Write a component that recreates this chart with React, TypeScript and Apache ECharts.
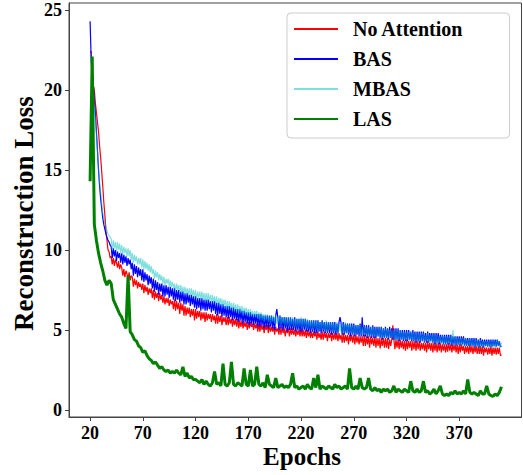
import React, { useEffect, useRef } from "react";
import * as echarts from "echarts";

const SERIES_NAMES = ["No Attention", "BAS", "MBAS", "LAS"];
const X_TICKS = [20, 70, 120, 170, 220, 270, 320, 370];
const Y_TICKS = [0, 5, 10, 15, 20, 25];
const X_TITLE = "Epochs";
const Y_TITLE = "Reconstruction Loss";

// per-epoch samples, epochs 20 .. 410
const EPOCHS = Array.from({ length: 391 }, (_, i) => 20 + i);
// LAS is read every second epoch, epochs 20, 22, .., 410
const EPOCHS_LAS = Array.from({ length: 196 }, (_, i) => 20 + 2 * i);

const NO_ATTENTION = [
  22.4, 22.4, 20.2, 20.3, 20.0, 19.2, 18.6, 18.0, 17.4, 16.5,
  15.8, 14.9, 14.0, 13.0, 12.2, 11.2, 10.6, 10.0, 9.9, 9.5,
  9.6, 9.1, 9.5, 9.0, 9.4, 9.2, 8.9, 9.3, 8.8, 9.1,
  8.9, 8.4, 8.8, 8.3, 8.7, 8.5, 8.2, 8.6, 8.1, 8.4,
  8.3, 7.7, 8.2, 7.8, 8.1, 7.6, 8.0, 7.7, 7.9, 7.5,
  7.9, 7.3, 7.8, 7.4, 7.7, 7.2, 7.6, 7.3, 7.6, 7.0,
  7.5, 6.9, 7.4, 7.0, 7.3, 6.8, 7.3, 6.9, 7.2, 6.7,
  7.1, 6.6, 7.0, 6.7, 7.0, 6.5, 6.9, 6.6, 6.8, 6.3,
  6.9, 6.2, 6.8, 6.3, 6.7, 6.0, 6.7, 6.2, 6.6, 5.9,
  6.5, 5.9, 6.4, 6.0, 6.4, 5.8, 6.3, 5.9, 6.3, 5.6,
  6.3, 5.7, 6.2, 5.8, 6.2, 5.6, 6.1, 5.7, 6.1, 5.5,
  6.1, 5.6, 6.0, 5.7, 6.0, 5.5, 6.0, 5.6, 5.9, 5.4,
  6.0, 5.4, 5.9, 5.5, 5.9, 5.3, 5.8, 5.5, 5.8, 5.3,
  5.8, 5.3, 5.8, 5.4, 5.7, 5.2, 5.7, 5.3, 5.7, 5.2,
  5.7, 5.1, 5.6, 5.2, 5.6, 5.1, 5.5, 5.2, 5.5, 5.0,
  5.5, 5.1, 5.5, 5.2, 5.4, 5.0, 5.4, 5.1, 5.4, 4.9,
  5.4, 4.9, 5.4, 5.0, 5.3, 4.8, 5.3, 5.0, 5.3, 4.8,
  5.3, 4.9, 5.2, 4.9, 5.2, 4.7, 5.2, 4.9, 5.1, 4.7,
  5.2, 4.7, 5.2, 4.8, 5.1, 4.6, 5.1, 4.8, 5.1, 4.6,
  5.1, 4.7, 5.1, 4.7, 5.0, 4.6, 5.0, 4.7, 5.0, 4.6,
  5.1, 4.6, 5.0, 4.6, 5.0, 4.5, 5.0, 4.6, 4.9, 4.5,
  4.9, 4.5, 4.9, 4.6, 4.9, 4.4, 4.9, 4.5, 4.8, 4.4,
  4.9, 4.4, 4.9, 4.5, 4.8, 4.3, 4.8, 4.5, 4.8, 4.3,
  4.8, 4.4, 4.8, 4.4, 4.8, 4.3, 4.8, 4.4, 4.7, 4.2,
  4.8, 4.2, 4.7, 4.3, 4.7, 4.1, 4.7, 4.3, 4.7, 4.2,
  4.7, 4.1, 4.7, 4.2, 4.6, 4.1, 4.6, 4.2, 4.6, 4.0,
  4.7, 4.0, 4.6, 4.1, 4.6, 3.9, 4.6, 4.1, 4.5, 4.0,
  4.6, 3.9, 4.5, 4.0, 4.5, 3.85, 4.5, 4.0, 4.5, 3.9,
  4.5, 3.9, 4.5, 3.8, 4.4, 4.0, 4.4, 5.3, 4.4, 3.8,
  4.4, 3.9, 4.4, 3.8, 4.4, 3.9, 4.3, 3.8, 4.3, 3.7,
  4.4, 3.8, 4.3, 3.9, 4.3, 3.7, 4.3, 3.8, 4.3, 3.7,
  4.3, 3.8, 4.3, 3.7, 4.2, 3.8, 4.2, 3.7, 4.2, 3.6,
  4.3, 3.8, 4.2, 3.7, 4.2, 3.6, 4.2, 3.7, 4.2, 3.6,
  4.2, 3.7, 4.2, 3.6, 4.1, 3.7, 4.1, 3.6, 4.1, 3.65,
  4.2, 3.7, 4.1, 3.6, 4.1, 3.7, 4.1, 3.6, 4.1, 3.5,
  4.1, 3.6, 4.1, 3.7, 4.0, 3.5, 4.0, 3.6, 4.0, 3.5,
  4.1, 3.6, 4.0, 3.5, 4.0, 3.6, 4.0, 3.5, 4.0, 3.5,
  4.0, 3.5, 4.0, 3.4, 3.9, 3.6, 3.9, 3.45, 3.9, 3.5,
  4.0, 3.4, 3.9, 3.5, 3.9, 3.45, 3.9, 3.5, 3.9, 3.4, 3.45,
];

const BAS = [
  24.3, 22.0, 20.5, 20.4, 19.4, 18.6, 17.4, 16.2, 15.0, 14.0,
  13.2, 12.6, 12.0, 11.6, 11.3, 11.0, 10.8, 10.6, 10.5, 10.3,
  10.2, 9.5, 10.1, 9.6, 10.0, 9.3, 9.9, 9.5, 9.8, 9.2,
  9.8, 9.1, 9.7, 9.2, 9.6, 9.0, 9.5, 9.1, 9.4, 8.8,
  9.2, 8.4, 9.1, 8.5, 9.0, 8.3, 8.9, 8.4, 8.8, 8.1,
  8.8, 8.0, 8.6, 8.1, 8.5, 7.8, 8.4, 7.9, 8.3, 7.6,
  8.2, 7.4, 8.1, 7.5, 8.0, 7.2, 7.9, 7.4, 7.9, 7.1,
  7.8, 7.1, 7.8, 7.2, 7.7, 7.0, 7.7, 7.1, 7.6, 6.9,
  7.6, 6.8, 7.5, 6.9, 7.5, 6.7, 7.4, 6.8, 7.4, 6.6,
  7.3, 6.6, 7.3, 6.7, 7.2, 6.5, 7.2, 6.6, 7.1, 6.4,
  7.1, 6.3, 7.0, 6.4, 7.0, 6.2, 7.0, 6.3, 6.9, 6.2,
  6.9, 6.2, 6.9, 6.3, 6.8, 6.1, 6.8, 6.2, 6.8, 6.0,
  6.7, 5.9, 6.7, 6.0, 6.6, 5.8, 6.6, 5.9, 6.5, 5.8,
  6.5, 5.7, 6.5, 5.8, 6.4, 5.6, 6.4, 5.7, 6.3, 5.6,
  6.3, 5.5, 6.3, 5.6, 6.2, 5.4, 6.2, 5.5, 6.1, 5.4,
  6.1, 5.3, 6.1, 5.4, 6.0, 5.3, 6.0, 5.4, 6.0, 5.2,
  6.0, 5.2, 6.0, 5.3, 5.9, 5.1, 5.9, 5.2, 5.9, 5.1,
  5.9, 5.2, 5.9, 5.1, 5.8, 5.0, 5.9, 6.3, 5.8, 5.0,
  5.9, 5.1, 5.8, 5.0, 5.8, 5.1, 5.8, 4.9, 5.8, 5.0,
  5.8, 5.0, 5.7, 5.0, 5.8, 4.9, 5.7, 5.0, 5.7, 4.9,
  5.7, 4.9, 5.7, 5.0, 5.7, 4.9, 5.6, 4.9, 5.6, 4.8,
  5.6, 4.9, 5.6, 4.8, 5.6, 4.8, 5.6, 4.9, 5.5, 4.8,
  5.6, 4.9, 5.5, 4.8, 5.5, 4.8, 5.5, 4.8, 5.5, 4.7,
  5.5, 4.8, 5.5, 4.7, 5.4, 4.8, 5.5, 5.8, 5.4, 4.7,
  5.5, 4.7, 5.4, 4.8, 5.4, 4.7, 5.4, 4.6, 5.4, 4.7,
  5.4, 4.6, 5.3, 4.7, 5.3, 4.6, 5.4, 4.6, 5.8, 4.6,
  5.3, 4.6, 5.3, 4.5, 5.3, 4.6, 5.2, 4.5, 5.3, 4.5,
  5.2, 4.5, 5.2, 4.6, 5.2, 4.5, 5.2, 4.4, 5.1, 4.5,
  5.2, 4.5, 5.1, 4.4, 5.2, 4.5, 5.1, 4.4, 5.1, 4.4,
  5.1, 4.4, 5.1, 4.3, 5.0, 4.4, 5.0, 4.3, 5.0, 4.3,
  5.0, 4.3, 5.0, 4.4, 4.9, 4.3, 5.0, 4.3, 4.9, 4.2,
  4.9, 4.3, 4.9, 4.2, 4.9, 4.3, 4.9, 4.2, 4.8, 4.2,
  4.9, 4.2, 4.8, 4.3, 4.8, 4.2, 4.8, 4.1, 4.8, 4.2,
  4.8, 4.1, 4.7, 4.2, 4.7, 4.1, 4.7, 4.1, 4.7, 4.1,
  4.7, 4.1, 4.7, 4.0, 4.6, 4.1, 4.6, 4.0, 4.6, 4.1,
  4.6, 4.0, 4.6, 4.1, 4.6, 4.0, 4.5, 4.0, 4.5, 4.0,
  4.5, 4.0, 4.5, 4.0, 4.5, 3.9, 4.5, 4.0, 4.4, 3.9,
  4.5, 4.0, 4.4, 3.9, 4.4, 4.0, 4.4, 3.95, 4.4, 3.95,
  4.4, 3.95, 4.4, 4.0, 4.4, 3.95, 4.4, 4.0, 4.3, 3.95, 4.0,
];

const MBAS = [
  22.2, 21.8, 20.8, 20.0, 19.0, 18.2, 17.2, 16.2, 15.0, 14.2,
  13.6, 12.9, 12.3, 12.0, 11.7, 11.5, 11.2, 11.0, 10.9, 10.8,
  10.7, 10.0, 10.6, 10.1, 10.5, 9.9, 10.5, 10.0, 10.4, 9.8,
  10.3, 9.7, 10.2, 9.8, 10.1, 9.6, 10.1, 9.6, 10.0, 9.4,
  9.8, 9.2, 9.7, 9.3, 9.6, 9.1, 9.5, 9.1, 9.5, 8.9,
  9.4, 8.8, 9.3, 8.8, 9.2, 8.7, 9.1, 8.6, 9.0, 8.5,
  8.8, 8.2, 8.7, 8.3, 8.6, 8.1, 8.5, 8.1, 8.4, 7.9,
  8.3, 7.8, 8.2, 7.9, 8.2, 7.7, 8.1, 7.7, 8.0, 7.6,
  7.9, 7.4, 7.9, 7.5, 7.8, 7.3, 7.8, 7.3, 7.7, 7.2,
  7.7, 7.2, 7.6, 7.2, 7.6, 7.1, 7.6, 7.1, 7.5, 7.0,
  7.5, 6.9, 7.4, 7.0, 7.4, 6.9, 7.4, 6.9, 7.3, 6.8,
  7.3, 6.8, 7.3, 6.8, 7.2, 6.7, 7.2, 6.7, 7.1, 6.6,
  7.1, 6.5, 7.0, 6.6, 7.0, 6.4, 6.9, 6.5, 6.9, 6.3,
  6.8, 6.3, 6.8, 6.3, 6.7, 6.2, 6.7, 6.2, 6.6, 6.1,
  6.6, 6.0, 6.5, 6.1, 6.5, 5.9, 6.4, 6.0, 6.4, 5.9,
  6.3, 5.8, 6.3, 5.9, 6.2, 5.8, 6.2, 5.8, 6.2, 5.7,
  6.1, 5.6, 6.1, 5.6, 6.0, 5.5, 6.0, 5.6, 6.0, 5.5,
  5.9, 5.4, 5.9, 5.5, 5.9, 5.4, 5.9, 5.4, 5.8, 5.4,
  5.9, 5.3, 5.8, 5.4, 5.8, 5.3, 5.8, 5.3, 5.8, 5.2,
  5.8, 5.3, 5.8, 5.2, 5.7, 5.2, 5.7, 5.2, 5.7, 5.2,
  5.8, 5.1, 5.7, 5.2, 5.7, 5.1, 5.7, 5.1, 5.6, 5.1,
  5.6, 5.0, 5.6, 5.1, 5.6, 5.0, 5.6, 5.0, 5.5, 5.0,
  5.6, 5.0, 5.5, 4.9, 5.6, 4.9, 5.5, 5.0, 5.5, 4.9,
  5.5, 4.9, 5.4, 4.9, 5.5, 4.8, 5.4, 4.9, 5.4, 4.8,
  5.4, 4.8, 5.5, 4.8, 5.4, 4.8, 5.4, 4.8, 5.3, 4.7,
  5.3, 4.7, 5.3, 4.8, 5.3, 4.7, 5.3, 4.7, 5.2, 4.7,
  5.3, 4.7, 5.2, 4.6, 5.2, 4.6, 5.2, 4.6, 5.2, 4.6,
  5.1, 4.6, 5.1, 4.6, 5.2, 4.5, 5.1, 4.5, 5.1, 4.5,
  5.1, 4.5, 5.1, 4.5, 5.0, 4.5, 5.0, 4.5, 5.0, 4.4,
  5.0, 4.4, 5.0, 4.4, 5.0, 4.4, 4.9, 4.4, 4.9, 4.4,
  4.9, 4.4, 4.9, 4.3, 4.9, 4.4, 4.9, 4.3, 4.8, 4.3,
  4.8, 4.3, 4.8, 4.3, 4.8, 4.3, 4.8, 4.2, 4.7, 4.3,
  4.8, 4.2, 4.7, 4.2, 4.7, 4.2, 4.7, 4.2, 4.7, 4.1,
  4.6, 4.2, 4.6, 4.1, 4.7, 4.1, 4.6, 4.1, 4.6, 4.1,
  4.6, 4.1, 4.6, 4.1, 5.0, 4.1, 4.6, 4.0, 4.5, 4.1,
  4.5, 4.0, 4.5, 4.0, 4.5, 4.0, 4.5, 4.0, 4.4, 4.0,
  4.5, 4.0, 4.4, 4.0, 4.4, 3.9, 4.4, 4.0, 4.4, 3.9,
  4.4, 3.9, 4.3, 3.9, 4.3, 3.9, 4.3, 4.0, 4.3, 3.9,
  4.3, 3.9, 4.4, 3.9, 4.3, 3.9, 4.4, 4.0, 4.3, 3.95, 4.2,
];

const LAS = [
  14.3, 22.1, 11.6, 10.6, 9.8, 9.2, 8.7, 8.1, 7.8, 8.1,
  7.9, 6.9, 6.6, 6.3, 6.0, 5.8, 5.4, 5.1, 8.4, 4.9,
  4.7, 4.4, 4.3, 4.0, 3.9, 3.6, 3.7, 3.4, 3.2, 3.1,
  2.9, 3.0, 2.8, 2.6, 2.7, 2.5, 2.4, 2.5, 2.3, 2.4,
  2.3, 2.5, 2.3, 2.2, 2.7, 2.1, 2.3, 2.0, 2.1, 1.9,
  1.9, 1.8, 1.7, 1.9, 1.6, 1.8, 1.6, 1.5, 1.7, 2.4,
  1.6, 1.7, 1.5, 2.9, 1.6, 1.5, 1.7, 3.0, 1.6, 1.5,
  1.7, 1.6, 1.5, 2.6, 1.6, 1.5, 2.5, 1.5, 1.6, 2.7,
  1.6, 1.5, 1.7, 1.4, 2.2, 1.6, 1.5, 1.4, 2.0, 1.4,
  1.5, 1.6, 1.4, 1.5, 1.4, 1.6, 2.3, 1.4, 1.5, 1.3,
  1.4, 1.5, 1.3, 1.6, 1.4, 1.3, 2.0, 1.4, 2.2, 1.3,
  1.5, 1.4, 1.3, 1.5, 1.4, 1.3, 1.6, 1.4, 1.5, 1.3,
  1.4, 1.5, 1.3, 2.6, 1.4, 1.3, 1.5, 1.3, 2.0, 1.4,
  1.3, 1.4, 2.0, 1.3, 1.2, 1.4, 1.2, 1.3, 1.1, 1.3,
  1.2, 1.3, 1.1, 1.2, 1.5, 1.1, 1.3, 1.2, 1.1, 1.3,
  1.2, 1.1, 1.8, 1.2, 1.1, 1.3, 1.1, 1.2, 1.8, 1.1,
  1.2, 1.0, 1.1, 1.3, 1.0, 1.2, 1.5, 1.0, 0.9, 1.0,
  0.9, 1.1, 1.0, 1.2, 1.0, 1.1, 1.0, 1.2, 1.0, 1.9,
  1.1, 1.0, 1.1, 1.0, 0.9, 1.2, 1.0, 1.0, 1.5, 1.0,
  0.9, 0.85, 1.0, 0.9, 1.1, 1.45,
];

const FONT = "'Liberation Serif', 'Times New Roman', serif";

function pairs(xs: number[], vals: number[]) {
  return vals.map((v, i) => [xs[i], v]);
}

export default function App() {
  const ref = useRef<HTMLDivElement>(null);
  useEffect(() => {
    if (!ref.current) return;
    const chart = echarts.init(ref.current, undefined, { renderer: "svg" });
    const tickLabel = {
      fontFamily: FONT,
      fontWeight: "bold",
      fontSize: 18,
      color: "#000",
    };
    chart.setOption({
      animation: false,
      backgroundColor: "#fff",
      grid: {
        left: 69,
        right: 1.5,
        top: 3,
        bottom: 58,
        show: true,
        borderColor: "#444",
        borderWidth: 1,
        backgroundColor: "transparent",
      },
      xAxis: {
        type: "value",
        min: 0,
        max: 429,
        splitLine: { show: false },
        axisLine: { show: true, onZero: false, lineStyle: { color: "#444", width: 1 } },
        axisTick: { show: true, length: 4, customValues: X_TICKS, lineStyle: { color: "#444" } },
        axisLabel: { ...tickLabel, margin: 7, lineHeight: 18, customValues: X_TICKS },
      },
      yAxis: {
        type: "value",
        min: -0.44,
        max: 25.44,
        splitLine: { show: false },
        axisLine: { show: true, onZero: false, lineStyle: { color: "#444", width: 1 } },
        axisTick: { show: true, length: 4, customValues: Y_TICKS, lineStyle: { color: "#444" } },
        axisLabel: { ...tickLabel, margin: 7, customValues: Y_TICKS },
      },
      legend: {
        orient: "vertical",
        left: 287,
        top: 13,
        padding: [6, 46, 9, 6],
        itemWidth: 44,
        itemHeight: 10,
        itemGap: 10,
        backgroundColor: "rgba(255,255,255,0.8)",
        borderColor: "#cccccc",
        borderWidth: 1,
        borderRadius: 4,
        data: SERIES_NAMES,
        itemStyle: { opacity: 0 },
        textStyle: {
          fontFamily: FONT,
          fontWeight: "bold",
          fontSize: 20,
          lineHeight: 20,
          color: "#000",
          padding: [0, 0, 0, 10],
        },
      },
      graphic: [
        {
          type: "text",
          x: 302,
          y: 456.5,
          style: {
            text: X_TITLE,
            font: `bold 25px ${FONT}`,
            fill: "#000",
            align: "center",
            verticalAlign: "middle",
            textAlign: "center",
            textVerticalAlign: "middle",
          },
        },
        {
          type: "text",
          x: 23.5,
          y: 213.5,
          rotation: Math.PI / 2,
          style: {
            text: Y_TITLE,
            font: `bold 27px ${FONT}`,
            fill: "#000",
            align: "center",
            verticalAlign: "middle",
            textAlign: "center",
            textVerticalAlign: "middle",
          },
        },
      ],
      series: [
        {
          name: SERIES_NAMES[0],
          type: "line",
          data: pairs(EPOCHS, NO_ATTENTION),
          symbol: "none",
          lineStyle: { color: "#ff0000", width: 1.2 },
          itemStyle: { color: "#ff0000" },
          z: 2,
        },
        {
          name: SERIES_NAMES[1],
          type: "line",
          data: pairs(EPOCHS, BAS),
          symbol: "none",
          lineStyle: { color: "#0000ff", width: 1.2 },
          itemStyle: { color: "#0000ff" },
          z: 3,
        },
        {
          name: SERIES_NAMES[2],
          type: "line",
          data: pairs(EPOCHS, MBAS),
          symbol: "none",
          lineStyle: { color: "#00bfbf", width: 1.2, opacity: 0.5 },
          itemStyle: { color: "#00bfbf", opacity: 0.5 },
          z: 4,
        },
        {
          name: SERIES_NAMES[3],
          type: "line",
          data: pairs(EPOCHS_LAS, LAS),
          symbol: "none",
          lineStyle: { color: "#008000", width: 3 },
          itemStyle: { color: "#008000" },
          z: 5,
        },
      ],
    });
    return () => chart.dispose();
  }, []);
  return (
    <div
      ref={ref}
      style={{ position: "fixed", left: 0, top: 0, width: 523, height: 475, background: "#fff" }}
    />
  );
}
